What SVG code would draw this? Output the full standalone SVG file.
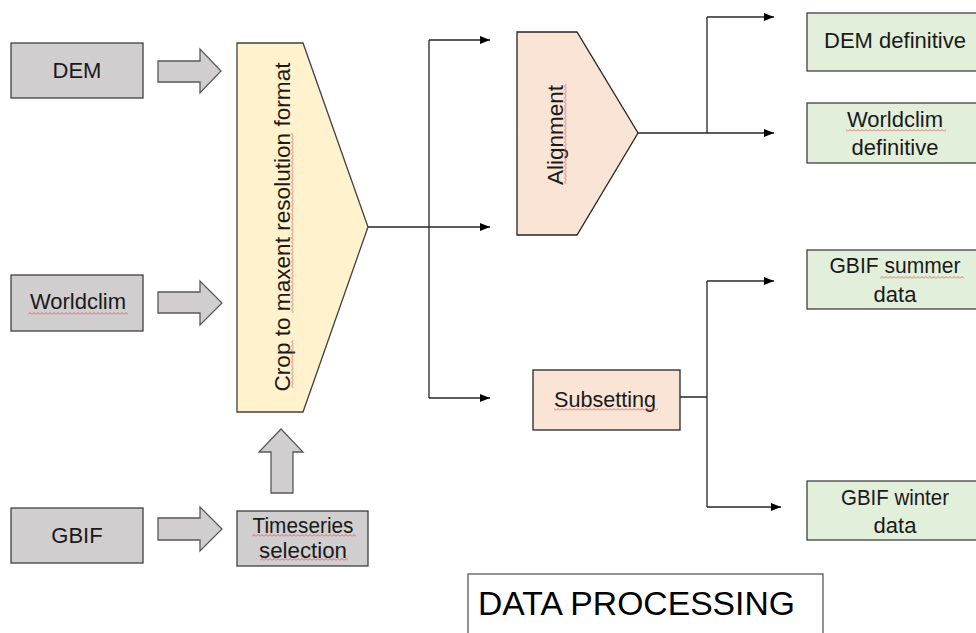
<svg xmlns="http://www.w3.org/2000/svg" width="976" height="633" viewBox="0 0 976 633">
<style>
text{font-family:"Liberation Sans",Arial,sans-serif;font-size:22px;fill:#1a1a1a;text-anchor:middle}
.gray{fill:#d0cece;stroke:#404040;stroke-width:1.3}
.barrow{fill:#d0cece;stroke:#595959;stroke-width:1.3}
.yellow{fill:#fff2cc;stroke:#404040;stroke-width:1.3}
.peach{fill:#fae4d6;stroke:#262626;stroke-width:1.3}
.green{fill:#e2efda;stroke:#404040;stroke-width:1.3}
.conn{fill:none;stroke:#262626;stroke-width:1.3}
.sq{fill:url(#wv)}
</style>
<defs>
<marker id="ah" markerUnits="userSpaceOnUse" markerWidth="11" markerHeight="9" refX="10" refY="4" orient="auto">
<path d="M0,0 L10,4 L0,8 Z" fill="#000"/>
</marker>
<pattern id="wv" width="4" height="3" patternUnits="userSpaceOnUse">
<path d="M0,2.5 L2,0.5 L4,2.5" fill="none" stroke="#e05050" stroke-width="0.8"/>
</pattern>
</defs>
<rect width="976" height="633" fill="#fff"/>

<g id="connectors">
<path class="conn" d="M368,227 H429 M429,40 V398" />
<path class="conn" d="M429,40 H490" marker-end="url(#ah)"/>
<path class="conn" d="M429,227 H490" marker-end="url(#ah)"/>
<path class="conn" d="M429,398 H490" marker-end="url(#ah)"/>
<path class="conn" d="M638,133 H707 M707,17 V133"/>
<path class="conn" d="M707,17 H774" marker-end="url(#ah)"/>
<path class="conn" d="M707,133 H774" marker-end="url(#ah)"/>
<path class="conn" d="M680,397 H707 M707,281 V507"/>
<path class="conn" d="M707,281 H774" marker-end="url(#ah)"/>
<path class="conn" d="M707,507 H781" marker-end="url(#ah)"/>
</g>

<g id="block-arrows">
<path class="barrow" d="M158,61 H200 V49 L221,71 L200,93 V82 H158 Z"/>
<path class="barrow" d="M158,292 H200 V281 L222,303 L200,325 V313 H158 Z"/>
<path class="barrow" d="M158,518 H200 V507 L222,529 L200,551 V540 H158 Z"/>
<path class="barrow" d="M271,493 V452 H259 L281,429 L303,452 H293 V493 Z"/>
</g>

<g id="dem">
<rect class="gray" x="11" y="43" width="132" height="55"/>
<text x="77" y="78">DEM</text>
</g>
<g id="worldclim">
<rect class="gray" x="11" y="275" width="132" height="56"/>
<text x="78" y="309">Worldclim</text>
<rect class="sq" x="28" y="312" width="100" height="3"/>
</g>
<g id="gbif">
<rect class="gray" x="11" y="508" width="132" height="55"/>
<text x="77" y="543">GBIF</text>
</g>
<g id="timeseries">
<rect class="gray" x="237" y="511" width="131" height="55"/>
<text x="303" y="533" textLength="101" lengthAdjust="spacingAndGlyphs">Timeseries</text>
<text x="303" y="558" textLength="88" lengthAdjust="spacingAndGlyphs">selection</text>
<rect class="sq" x="252" y="534" width="104" height="3"/>
<rect class="sq" x="260" y="558" width="88" height="3"/>
</g>

<g id="crop">
<path class="yellow" d="M237,43 H303 L368,227 L303,412 H237 Z"/>
<text transform="translate(290,227) rotate(-90)" x="0" y="0" textLength="329" lengthAdjust="spacingAndGlyphs">Crop to maxent resolution format</text>
<g transform="rotate(-90)">
<rect class="sq" x="-388" y="291" width="48" height="3"/>
<rect class="sq" x="-313" y="291" width="180" height="3"/>
</g>
</g>

<g id="alignment">
<path class="peach" d="M517,32 H577 L638,133 L577,235 H517 Z"/>
<text transform="translate(563,135) rotate(-90)" x="0" y="0" textLength="100" lengthAdjust="spacingAndGlyphs">Alignment</text>
<g transform="rotate(-90)">
<rect class="sq" x="-184" y="564" width="100" height="3"/>
</g>
</g>

<g id="subsetting">
<rect class="peach" x="533" y="370" width="147" height="60"/>
<text x="605" y="407" textLength="102" lengthAdjust="spacingAndGlyphs">Subsetting</text>
<rect class="sq" x="554" y="408" width="104" height="3"/>
</g>

<g id="dem-definitive">
<rect class="green" x="807" y="13" width="175" height="58"/>
<text x="895" y="48" textLength="142" lengthAdjust="spacingAndGlyphs">DEM definitive</text>
</g>
<g id="worldclim-definitive">
<rect class="green" x="807" y="103" width="175" height="60"/>
<text x="895" y="127">Worldclim</text>
<text x="895" y="155">definitive</text>
<rect class="sq" x="846" y="129" width="100" height="3"/>
</g>
<g id="gbif-summer">
<rect class="green" x="807" y="250" width="175" height="59"/>
<text x="895" y="273" textLength="131" lengthAdjust="spacingAndGlyphs">GBIF summer</text>
<text x="895" y="302">data</text>
<rect class="sq" x="880" y="276" width="84" height="3"/>
</g>
<g id="gbif-winter">
<rect class="green" x="807" y="481" width="175" height="59"/>
<text x="895" y="505" textLength="108" lengthAdjust="spacingAndGlyphs">GBIF winter</text>
<text x="895" y="533">data</text>
</g>

<g id="title">
<rect x="468" y="574" width="355" height="70" fill="#fff" stroke="#595959" stroke-width="1.3"/>
<text x="478" y="615" style="text-anchor:start;font-size:33px;fill:#000" textLength="317" lengthAdjust="spacingAndGlyphs">DATA PROCESSING</text>
</g>
</svg>
